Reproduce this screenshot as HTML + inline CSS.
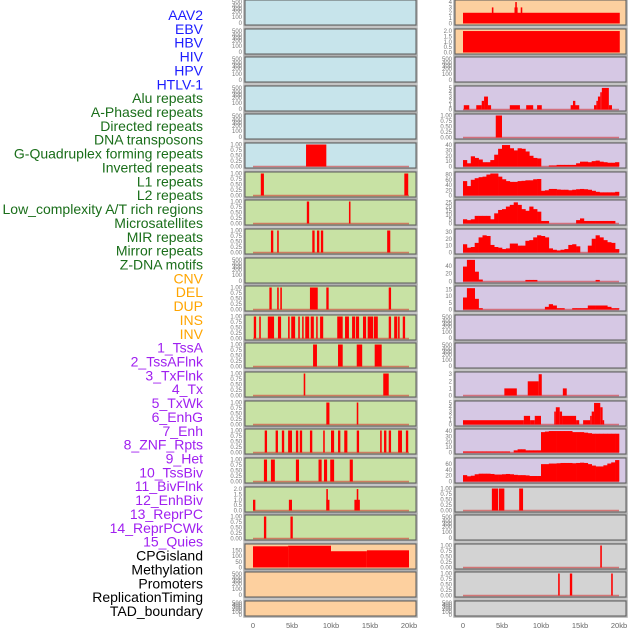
<!DOCTYPE html>
<html><head><meta charset="utf-8"><style>
html,body{margin:0;padding:0;background:#fff;}
svg{display:block;font-family:"Liberation Sans",sans-serif;}
</style></head><body>
<svg id="chart" width="630" height="630" viewBox="0 0 630 630"></svg>
<script>
// ---- labels ----
const labels = ["AAV2","EBV","HBV","HIV","HPV","HTLV-1","Alu repeats","A-Phased repeats","Directed repeats","DNA transposons","G-Quadruplex forming repeats","Inverted repeats","L1 repeats","L2 repeats","Low_complexity A/T rich regions","Microsatellites","MIR repeats","Mirror repeats","Z-DNA motifs","CNV","DEL","DUP","INS","INV","1_TssA","2_TssAFlnk","3_TxFlnk","4_Tx","5_TxWk","6_EnhG","7_Enh","8_ZNF_Rpts","9_Het","10_TssBiv","11_BivFlnk","12_EnhBiv","13_ReprPC","14_ReprPCWk","15_Quies","CPGisland","Methylation","Promoters","ReplicationTiming","TAD_boundary"];
const labelGroups = ["v","v","v","v","v","v","r","r","r","r","r","r","r","r","r","r","r","r","r","s","s","s","s","s","c","c","c","c","c","c","c","c","c","c","c","c","c","c","c","k","k","k","k","k"];
const xTickKb = [0,5,10,15,20];
const xTickLabels = ["0","5kb","10kb","15kb","20kb"];

// ---- tick sets ----
const tEmpty = ["0","100","200","300","400","500"];
const tUnit = [0,0.25,0.5,0.75,1];
const tUnitLbl = ["0.00","0.25","0.50","0.75","1.00"];
const tTwo = [0,0.5,1,1.5,2];
const tTwoLbl = ["0.0","0.5","1.0","1.5","2.0"];

// ---- left column segments [startKb, endKb, value] ----
const L5 = [[6.8,9.4,1]];
const L6 = [[1.0,1.4,1],[19.4,19.9,1]];
const L7 = [[6.9,7.2,1],[12.3,12.5,1]];
const L8 = [[2.3,2.6,1],[3.1,3.3,1],[7.6,7.9,1],[8.2,8.5,1],[8.7,9.0,1],[17.2,17.6,1]];
const L10 = [[2.1,2.4,1],[3.1,3.3,1],[3.5,3.7,1],[7.3,8.3,1],[9.4,9.7,1],[17.4,17.7,1]];
const L11 = [[0.1,0.4,1],[0.8,1.0,1],[1.9,2.7,1],[3.2,3.6,1],[4.5,4.7,1],[4.9,5.4,1],[5.8,6.0,1],[6.3,6.4,1],[6.7,7.2,1],[7.4,7.8,1],[8.1,8.2,1],[8.6,9.0,1],[10.8,11.5,1],[11.8,12.3,1],[12.7,13.1,1],[13.2,13.6,1],[14.1,14.5,1],[14.7,15.4,1],[15.5,16.0,1],[17.4,17.7,1],[18.1,18.5,1],[18.6,18.8,1],[19.2,19.5,1]];
const L12 = [[7.7,8.2,1],[10.9,11.5,1],[13.3,14.0,1],[15.6,16.5,1]];
const L13 = [[6.5,6.7,1],[16.7,17.4,1]];
const L14 = [[9.4,9.8,1],[13.3,13.5,1]];
const L15 = [[1.5,1.8,1],[2.9,3.2,1],[3.7,4.0,1],[4.5,5.0,1],[5.5,5.8,1],[6.0,6.3,1],[7.3,7.6,1],[9.0,9.2,1],[10.0,10.4,1],[10.9,11.2,1],[11.7,12.1,1],[13.3,13.6,1],[16.3,16.5,1],[16.8,17.1,1],[17.4,17.7,1],[18.6,19.1,1],[19.6,19.9,1]];
const L16 = [[1.4,1.8,1],[2.3,2.8,1],[5.5,5.9,1],[8.4,8.8,1],[9.1,9.5,1],[9.9,10.4,1],[12.4,12.8,1]];
const L17 = [[0,0.3,1],[4.6,5.0,1],[9.4,9.8,1],[9.4,9.6,2],[13.0,13.7,1],[13.3,13.5,2]];
const L18 = [[1.4,1.7,1],[4.8,5.1,1]];
const L19 = [[0,4.5,185],[4.5,10,190],[10,14.6,142],[14.6,20,150]];

// ---- right column segments ----
const R0 = [[0,20.1,2],[3.7,3.9,3],[6.6,7.0,3],[6.7,6.9,4],[7.4,7.6,3]];
const R1 = [[0,20.1,2]];
const R3 = [[0.1,0.8,1],[1.7,2.4,1],[2.4,2.7,2],[2.7,3.2,3],[3.2,3.6,1],[6.0,7.3,1],[8.1,9.0,1],[9.5,10.1,1],[13.8,14.2,1],[14.1,14.4,2],[14.2,14.9,1],[16.8,17.1,1],[17.1,17.3,2],[17.3,17.6,3],[17.6,17.8,4],[17.8,18.7,5],[18.7,19.1,1]];
const R4 = [[4.2,5.0,1]];
const R13 = [[5.3,6.9,1],[8.3,9.7,2],[9.7,10.1,3],[12.8,13.3,1]];
const R14 = [[0,7.8,1],[7.8,8.6,2],[8.6,9.2,1],[9.2,10.0,2],[11.7,11.9,3],[11.9,12.4,4],[12.4,12.7,3],[12.7,14.5,2],[14.5,14.9,1],[15.4,16.3,1],[16.3,16.5,2],[16.5,16.8,3],[16.8,17.6,5],[17.6,17.9,4],[17.9,18.1,1]];
const R17 = [[3.7,4.5,1],[4.6,5.3,1],[7.2,7.7,1]];
const R19 = [[17.6,17.8,1]];
const R20 = [[12.2,12.4,1],[13.7,14.0,1],[19.0,19.2,1]];

// ---- right column profiles (0.5kb bins) ----
const P5 = [12,6,19,16,13,8,8,12,22,33,40,40,34,30,34,33,28,20,16,15,0,0,2,2,3,3,3,3,3,6,9,9,8,10,11,9,8,7,7,8];
const P6 = [55,36,60,66,70,72,80,86,84,72,62,55,52,52,55,56,58,58,62,63,18,20,25,25,23,22,22,20,22,24,25,24,22,18,14,12,12,12,12,14];
const P7 = [5,4,5,9,9,9,9,5,12,16,17,20,22,25,22,17,15,20,17,14,3,3,0,0,0,0,0,0,0,4,6,3,3,3,3,3,3,3,3,0];
const P8 = [12,7,8,14,22,25,24,11,8,7,5,6,13,13,10,10,17,18,22,25,24,22,6,4,3,4,5,11,12,9,0,0,10,20,25,22,18,15,14,5];
const P9 = [38,55,55,25,5,0,0,0,0,0,0,0,0,0,0,0,4,4,4,0,0,0,0,0,0,0,0,0,0,0,0,0,0,0,4,0,0,0,0,0];
const P10 = [9,16,16,8,1,0,0,0,0,0,0,0,0,0,0,0,0,0,0,0,0,2,4,3,1,1,0,0,1,1,1,1,3,3,3,3,3,2,1,1];
const P15 = [2,2,2,2,2,2,2,2,2,2,2,2,0,4,6,6,4,4,4,4,38,39,40,40,40,40,40,40,38,38,38,37,36,35,35,35,35,35,35,35];
const P16 = [22,18,20,25,27,27,27,26,24,24,25,26,25,23,22,22,21,19,19,19,60,60,62,62,63,64,64,64,63,64,65,64,60,55,52,52,56,62,66,74];

const BLUE="#c7e4eb", GREEN="#c8e2a4", PEACH="#fdd09f", LAV="#d6c8e4", GREY="#d3d3d3";
const leftPanels = [
 {bg:BLUE,t:"e"},{bg:BLUE,t:"e"},{bg:BLUE,t:"e"},{bg:BLUE,t:"e"},{bg:BLUE,t:"e"},
 {bg:BLUE,t:"u",segs:L5},{bg:GREEN,t:"u",segs:L6},{bg:GREEN,t:"u",segs:L7},{bg:GREEN,t:"u",segs:L8},
 {bg:GREEN,t:"e"},{bg:GREEN,t:"u",segs:L10},{bg:GREEN,t:"u",segs:L11},{bg:GREEN,t:"u",segs:L12},
 {bg:GREEN,t:"u",segs:L13},{bg:GREEN,t:"u",segs:L14},{bg:GREEN,t:"u",segs:L15},{bg:GREEN,t:"u",segs:L16},
 {bg:GREEN,t:"two",segs:L17},{bg:GREEN,t:"u",segs:L18},
 {bg:PEACH,t:"n",ticks:[0,50,100,150],ymax:192,segs:L19,nobase:true},{bg:PEACH,t:"e"},{bg:PEACH,t:"e"}
];
const rightPanels = [
 {bg:PEACH,t:"n",ticks:[0,1,2,3,4],ymax:4.1,segs:R0,nobase:true},
 {bg:PEACH,t:"two",ymax:2.05,segs:R1,nobase:true},
 {bg:LAV,t:"e"},
 {bg:LAV,t:"n",ticks:[0,1,2,3,4,5],ymax:5.1,segs:R3},
 {bg:LAV,t:"u",segs:R4},
 {bg:LAV,t:"n",ticks:[0,10,20,30,40],ymax:41,prof:P5},
 {bg:LAV,t:"n",ticks:[0,20,40,60,80],ymax:84,prof:P6},
 {bg:LAV,t:"n",ticks:[0,5,10,15,20,25],ymax:26,prof:P7},
 {bg:LAV,t:"n",ticks:[0,10,20,30],ymax:32,prof:P8},
 {bg:LAV,t:"n",ticks:[0,20,40],ymax:56,prof:P9},
 {bg:LAV,t:"n",ticks:[0,5,10,15],ymax:16.5,prof:P10},
 {bg:LAV,t:"e"},{bg:LAV,t:"e"},
 {bg:LAV,t:"n",ticks:[0,1,2,3],ymax:3.1,segs:R13},
 {bg:LAV,t:"n",ticks:[0,1,2,3,4,5],ymax:5.1,segs:R14},
 {bg:LAV,t:"n",ticks:[0,10,20,30,40],ymax:41,prof:P15},
 {bg:LAV,t:"n",ticks:[0,20,40,60],ymax:76,prof:P16},
 {bg:GREY,t:"u",segs:R17},{bg:GREY,t:"e"},
 {bg:GREY,t:"u",segs:R19},{bg:GREY,t:"u",segs:R20},{bg:GREY,t:"e"}
];

const NS="http://www.w3.org/2000/svg";
const svg=document.getElementById("chart");
function mk(tag,attrs,parent){const e=document.createElementNS(NS,tag);for(const k in attrs)e.setAttribute(k,attrs[k]);(parent||svg).appendChild(e);return e;}

const groupColor={v:"#1c1cff",r:"#1a6e1a",s:"#ffa500",c:"#a020f0",k:"#000000"};
labels.forEach((l,i)=>{
  const t=mk("text",{x:203,y:(15+i*13.86+5).toFixed(1),"text-anchor":"end","font-size":"14",fill:groupColor[labelGroups[i]]});
  
  
  t.textContent=l;
});

function drawPanel(p,col,row){
  const top=Math.round(row*28.62);
  const h=row===21?15:25;
  const px=col?455:245, w=171;
  const x0=col?463:253;
  const xs=kb=>x0+kb*7.8;
  const g=mk("g",{});
  
  
  mk("rect",{x:px-0.5,y:top-0.5,width:w+1,height:h+1,fill:p.bg,stroke:"#b0b0b0","stroke-width":2.5},g);
  mk("rect",{x:px,y:top,width:w,height:h,fill:p.bg,stroke:"#5a5a5a","stroke-width":1},g);
  const tx=px-3;
  if(p.t==="e"){
    const offs=h===25?[23,17,12,9,6,2]:[14,11,8,6,4,2];
    tEmpty.forEach((s,i)=>{const t=mk("text",{x:tx,y:top+offs[i]+2,"text-anchor":"end","font-size":"6",fill:"#777"},g);t.textContent=s;});
    return;
  }
  let ymax=p.ymax, tv, tl;
  if(p.t==="u"){ymax=ymax||1;tv=tUnit;tl=tUnitLbl;}
  else if(p.t==="two"){ymax=ymax||2.05;tv=tTwo;tl=tTwoLbl;}
  else {tv=p.ticks;tl=p.ticks.map(String);}
  const ys=v=>top+h-1.5-Math.min(v,ymax)/ymax*(h-3);
  tv.forEach((v,i)=>{const t=mk("text",{x:tx,y:(ys(v)+2).toFixed(1),"text-anchor":"end","font-size":"6",fill:"#777"},g);t.textContent=tl[i];});
  if(!p.nobase){const b=mk("line",{x1:xs(0),x2:xs(20),y1:ys(0),y2:ys(0),stroke:"rgba(210,40,40,0.55)","stroke-width":1.5},g);}
  if(p.segs){p.segs.forEach(s=>{
    const r=mk("rect",{x:xs(s[0]).toFixed(2),y:ys(s[2]).toFixed(2),width:Math.max(1.5,(xs(s[1])-xs(s[0]))).toFixed(2),height:(ys(0)-ys(s[2])).toFixed(2),fill:"#ff0000"},g);
    
    
  });}
  if(p.prof){p.prof.forEach((v,i)=>{
    if(v<=0)return;
    const r=mk("rect",{x:xs(i*0.5).toFixed(2),y:ys(v).toFixed(2),width:(3.9+0.3).toFixed(2),height:(ys(0)-ys(v)).toFixed(2),fill:"#ff0000"},g);
    
    
  });}
}
leftPanels.forEach((p,i)=>drawPanel(p,0,i));
rightPanels.forEach((p,i)=>drawPanel(p,1,i));

[253,463].forEach(x0=>{
  xTickKb.forEach((kb,i)=>{
    const t=mk("text",{x:x0+kb*7.8,y:628,"text-anchor":"middle","font-size":"7.5",fill:"#666"});
    
    
    t.textContent=xTickLabels[i];
  });
});
</script>
</body></html>
